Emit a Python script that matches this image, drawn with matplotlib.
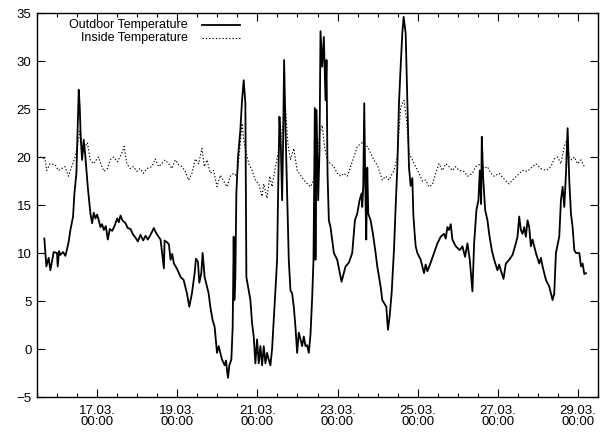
import numpy as np
import pandas as pd
import matplotlib
matplotlib.use("Agg")
import matplotlib.pyplot as plt
import matplotlib.dates as mdates

plt.rcParams['font.family'] = ['Liberation Sans', 'DejaVu Sans']

# hours since 15.03. 00:00
out_h = [16.4, 17.6, 19.0, 20.0, 22.0, 24.0, 24.4, 25.2, 26.0, 27.6, 29.0, 30.0, 31.0, 32.0,
         33.6, 34.4, 35.6, 36.4, 37.0, 37.6, 38.2, 39.0, 40.0, 41.0, 42.4, 44.0, 45.0, 46.0,
         47.0, 48.0, 49.0, 50.0, 51.0, 52.0, 53.2, 54.4, 55.6, 57.0, 58.4, 60.0, 61.0, 62.0,
         63.2, 65.0, 66.4, 68.0, 69.6, 71.0, 72.4, 74.0, 75.6, 77.0, 78.4, 80.0, 82.0, 83.0,
         84.0, 86.0, 88.0, 88.4, 90.0, 91.0, 92.0, 93.0, 94.0, 96.0, 98.0,
         99.8, 101.8, 103.2, 104.8, 106.4, 107.2, 108.4, 109.2, 110.4, 111.2, 112.4, 113.8,
         114.8, 115.8, 117.2, 118.4, 119.8, 120.8, 121.8, 122.8, 124.4, 125.2, 125.8, 126.4,
         127.2, 128.4, 129.2, 129.8, 130.2, 130.8, 131.4, 132.4, 133.8, 134.8, 135.8, 136.8,
         137.4, 138.8, 139.8, 140.8, 141.8, 142.8, 143.8, 144.8, 145.8, 146.8, 147.8, 148.8,
         149.8, 150.8, 151.8, 152.8, 153.8, 154.8, 155.8, 156.4, 157.2, 158.0, 158.8, 159.4,
         160.0, 160.8, 161.8, 162.8, 163.8, 164.8, 165.8, 166.8, 167.8, 168.8, 169.8, 170.8,
         171.8, 172.8, 173.8, 174.8, 175.8, 176.8, 177.6, 178.4, 178.8, 179.4, 180.4, 181.2,
         181.8, 182.8, 183.8, 184.8, 185.4, 186.0, 186.8, 187.8, 189.8, 191.8, 194.4, 196.8,
         198.8, 200.8, 202.4, 203.8, 205.2, 206.4, 206.8, 207.4, 208.0, 208.6, 209.2, 209.8,
         210.4, 211.8, 213.2, 214.8, 215.8, 217.8, 218.8, 219.8, 221.2, 222.2, 223.2, 224.4,
         225.8, 226.8, 227.8, 228.8, 229.8, 230.8, 231.6, 232.8, 233.8, 234.8, 235.8, 236.8,
         237.4, 238.2, 238.8, 239.8, 241.8, 242.8, 243.8, 244.8, 245.8, 247.8, 249.8, 251.8,
         253.8, 255.8, 256.8, 257.8, 258.8, 259.8, 260.8, 262.8, 265.2,
         266.8, 268.4, 269.8, 271.2, 272.8, 273.8, 275.2, 276.4, 277.2, 278.0, 278.4, 279.2,
         280.4, 281.8, 282.8, 284.4, 285.8, 287.8, 288.8, 289.8, 291.4, 292.8, 294.8, 296.8,
         298.8, 299.8, 300.8, 301.8, 302.8, 303.8, 304.8, 305.8, 306.8, 307.8, 308.8, 310.8,
         312.8, 313.8, 314.8, 316.8, 318.8, 320.8, 321.8, 322.8, 324.8, 325.8, 326.8, 327.8,
         328.8, 329.8, 330.8, 331.8, 332.8, 333.8, 334.8, 336.8, 337.8, 338.8, 339.8, 340.8]
out_t = [11.5, 8.6, 9.5, 8.2, 10.1, 10.0, 8.6, 10.2, 9.8, 10.1, 9.7, 10.4, 11.2, 12.4,
         13.8, 16.2, 18.3, 23.2, 27.0, 25.2, 22.0, 19.7, 21.8, 20.0, 16.9, 14.1, 13.1, 14.2,
         13.6, 14.0, 13.4, 12.7, 13.0, 12.4, 12.8, 11.4, 12.5, 12.3, 12.8, 13.6, 13.2, 13.9,
         13.4, 13.1, 12.6, 12.5, 11.9, 11.6, 11.2, 11.9, 11.3, 11.8, 11.4, 11.9, 12.6, 12.2,
         11.9, 11.4, 8.4, 11.3, 11.1, 10.9, 9.3, 9.9, 8.9, 8.3, 7.5,
         7.2, 5.8, 4.4, 5.8, 7.9, 9.4, 9.1, 6.9, 7.9, 10.0, 7.5, 6.5,
         5.8, 4.4, 3.0, 2.3, -0.4, 0.3, -0.4, -1.1, -1.7, -1.2, -2.2, -3.0,
         -1.7, -1.1, 2.3, 11.7, 5.1, 7.5, 16.2, 20.0, 22.8, 25.9, 28.0, 25.6,
         7.5, 6.1, 5.1, 2.7, 1.3, -1.5, 1.0, -1.5, 0.3, -1.7, 0.3, -1.5,
         -0.4, -1.1, -1.7, 0.0, 3.0, 6.1, 9.3, 16.2, 24.2, 21.5, 15.5, 21.5,
         30.1, 23.2, 16.2, 9.3, 6.1, 5.8, 4.4, 2.3, -0.4, 1.7, 1.0, 0.3,
         1.3, 0.3, 0.4, -0.4, 1.5, 5.3, 9.3, 25.1, 9.3, 24.9, 15.5, 20.7,
         33.1, 29.4, 32.5, 25.9, 30.1, 18.3, 13.4, 12.7, 10.0, 9.3, 7.0, 8.6,
         9.0, 10.0, 13.4, 14.1, 15.5, 16.2, 14.8, 17.0, 25.6, 17.3, 11.4, 18.9,
         14.1, 13.4, 12.0, 10.0, 8.6, 6.5, 5.1, 4.8, 4.4, 2.0, 3.4, 5.8,
         10.3, 14.8, 18.9, 25.6, 29.4, 32.9, 34.6, 32.9, 25.9, 18.9, 17.0, 17.8,
         14.0, 12.0, 10.7, 10.0, 9.3, 8.6, 7.9, 8.8, 8.1, 9.0, 10.0, 11.0,
         11.7, 12.0, 11.5, 12.7, 12.4, 13.0, 11.4, 10.7, 10.3,
         10.7, 9.6, 11.0, 9.3, 6.0, 11.0, 14.5, 15.5, 18.6, 15.1, 22.1, 17.9,
         14.5, 13.4, 12.0, 10.3, 9.3, 8.2, 8.8, 8.2, 7.3, 8.9, 9.3, 9.8,
         11.0, 11.7, 13.8, 12.4, 12.0, 12.7, 11.7, 13.4, 12.7, 10.7, 11.4, 10.0,
         8.9, 9.5, 8.6, 7.2, 6.5, 5.1, 5.8, 10.0, 11.7, 15.5, 16.9, 14.8,
         18.2, 23.0, 17.5, 14.1, 12.7, 10.3, 10.0, 10.0, 8.6, 8.9, 7.8, 7.9]

in_h = [13.8, 16.8, 17.8, 19.8, 22.8, 24.8, 26.8, 28.8, 30.8, 32.8, 34.8, 36.2, 37.8, 39.4,
        40.8, 42.2, 43.8, 45.8, 48.8, 50.8, 52.2, 54.2, 55.8, 57.8, 60.2, 62.8, 64.2, 65.8,
        67.8, 69.8, 71.8, 73.8, 75.8, 77.8, 80.8, 82.8, 84.8, 86.8, 88.8, 90.8, 92.8, 94.8,
        96.8, 98.8, 100.8, 102.8, 104.8, 106.8, 108.8, 110.8, 112.2, 113.8, 115.8, 117.8,
        119.8, 121.8, 123.8, 125.8, 127.8, 129.8, 131.8, 133.4, 134.8, 135.8, 137.4, 138.8,
        140.8, 142.8, 144.8, 146.8, 147.8, 149.8, 151.4, 152.8, 154.8, 156.8, 158.8, 160.8,
        162.2, 163.8, 165.8, 167.8, 169.8, 172.8, 175.8, 177.8, 179.8, 181.4, 182.8, 184.2,
        185.8, 187.8, 189.8, 191.8, 193.8, 195.8, 197.8, 199.8, 201.8, 203.8, 206.8, 209.8,
        211.8, 213.8, 216.2, 218.8, 220.8, 222.8, 225.8, 227.8, 229.8, 231.8, 233.4, 234.8,
        236.8, 238.8, 240.8, 242.8, 244.8, 246.8, 248.8, 250.8, 252.8, 254.8, 256.8, 258.8,
        260.8, 262.8, 264.8, 267.8, 269.8, 272.8, 274.8, 277.8, 279.8, 281.8, 283.8, 285.8,
        288.8, 290.8, 292.8, 294.8, 296.8, 299.8, 302.8, 305.8, 308.8, 310.8, 313.8, 316.8,
        319.8, 321.8, 323.8, 325.8, 327.8, 329.4, 330.8, 332.2, 333.8, 335.8, 337.8, 339.8]
in_t = [20.0, 19.8, 18.6, 19.3, 19.2, 18.6, 18.8, 19.0, 18.0, 19.0, 20.0, 21.1, 22.8, 20.4,
        21.1, 21.5, 19.7, 19.3, 20.0, 19.0, 18.5, 18.8, 19.7, 20.0, 19.5, 20.4, 21.1, 19.3,
        18.8, 19.0, 18.5, 18.8, 18.3, 18.8, 19.0, 19.8, 19.0, 19.3, 19.7, 19.3, 18.8, 19.7,
        19.2, 19.0, 18.5, 17.6, 18.3, 19.8, 19.3, 20.9, 19.0, 19.7, 18.3, 18.6,
        16.9, 18.1, 17.5, 16.9, 18.0, 18.3, 18.0, 20.7, 23.5, 21.8, 20.4, 19.3,
        18.6, 17.6, 17.2, 15.9, 17.2, 15.7, 18.0, 16.9, 19.0, 20.7, 22.8, 25.2,
        21.5, 19.7, 20.9, 18.6, 18.1, 17.4, 16.9, 17.6, 20.0, 22.5, 23.3, 21.1,
        19.7, 19.3, 19.0, 18.3, 18.0, 18.3, 18.0, 19.0, 20.0, 21.1, 21.5, 21.1,
        20.4, 19.7, 19.0, 17.6, 18.0, 17.6, 18.6, 20.0, 25.2, 25.9, 23.8, 20.4,
        19.7, 19.0, 18.3, 17.5, 17.6, 16.9, 17.1, 18.3, 19.3, 18.6, 19.3, 19.0,
        18.6, 19.0, 18.6, 18.5, 18.0, 18.3, 19.0, 19.3, 18.8, 19.0, 18.3, 18.0,
        18.3, 17.9, 17.5, 17.2, 17.6, 18.1, 18.6, 18.5, 19.0, 19.3, 18.8, 18.6,
        19.0, 19.8, 20.0, 19.3, 21.1, 21.8, 20.0, 19.7, 20.0, 19.3, 19.7, 19.0]

base = pd.Timestamp('2009-03-15')
out_x = base + pd.to_timedelta(out_h, unit='h')
in_x = base + pd.to_timedelta(in_h, unit='h')

fig = plt.figure(figsize=(6.06, 4.32), dpi=100)
ax = fig.add_axes([37/606, 1-397/432, 561/606, 384/432])

ax.plot(out_x, out_t, color='black', lw=1.3)
ax.plot(in_x, in_t, color='black', lw=0.8, ls=(0, (1.2, 1.8)))

ax.set_xlim(base + pd.Timedelta(hours=12), base + pd.Timedelta(hours=348))
ax.set_ylim(-5, 35)
ax.set_yticks(range(-5, 36, 5))

ax.xaxis.set_major_locator(mdates.DayLocator(bymonthday=[17, 19, 21, 23, 25, 27, 29]))
ax.xaxis.set_minor_locator(mdates.HourLocator(byhour=[0, 12]))
ax.xaxis.set_major_formatter(mdates.DateFormatter('%d.%m.\n%H:%M'))

ax.tick_params(which='both', direction='in', top=True, right=True, labelsize=9.5, width=0.8)
ax.tick_params(which='major', length=6, pad=4)
ax.tick_params(axis='x', which='major', pad=6)
ax.tick_params(which='minor', length=3)
for lab in ax.get_xticklabels():
    lab.set_linespacing(0.9)
for s in ax.spines.values():
    s.set_linewidth(1.0)

# gnuplot style key
ax.text(0.269, 0.969, 'Outdoor Temperature', transform=ax.transAxes, ha='right', va='center', fontsize=9)
ax.text(0.269, 0.935, 'Inside Temperature', transform=ax.transAxes, ha='right', va='center', fontsize=9)
ax.plot([0.294, 0.362], [0.969, 0.969], transform=ax.transAxes, color='black', lw=1.3)
ax.plot([0.294, 0.362], [0.935, 0.935], transform=ax.transAxes, color='black', lw=0.8, ls=(0, (1.2, 1.8)))

fig.savefig('out.png', dpi=100)
